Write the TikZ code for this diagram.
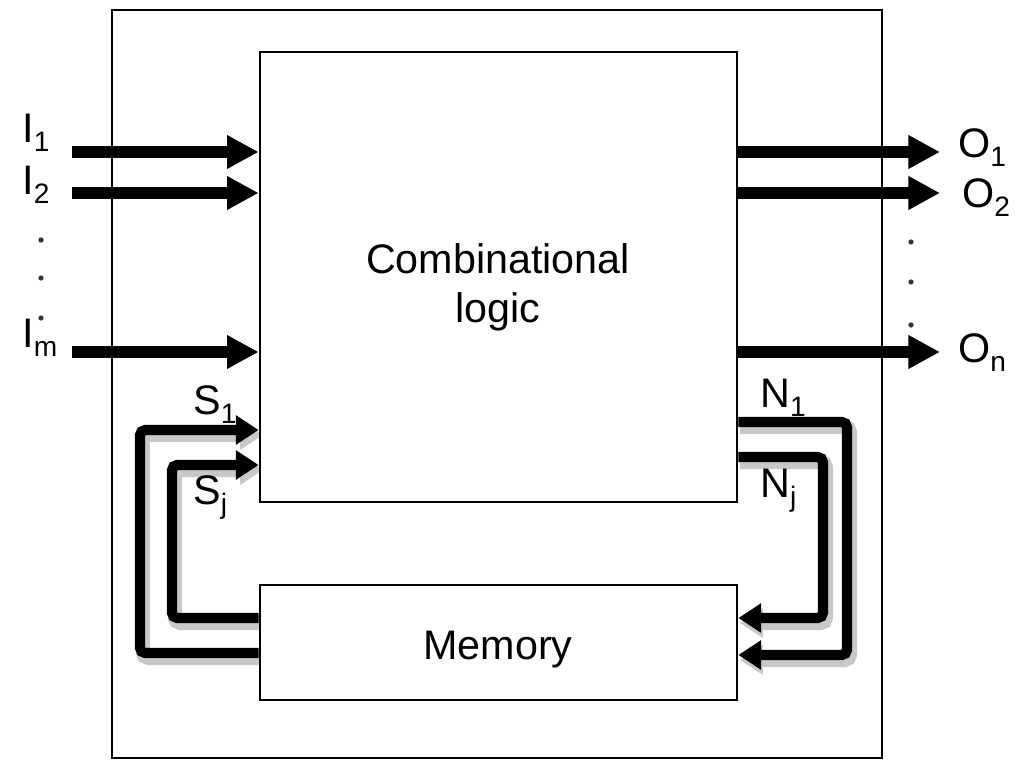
\documentclass[tikz,border=0pt]{standalone}
\usepackage{fontspec}
\setmainfont{Liberation Sans}
\usetikzlibrary{arrows.meta, positioning, calc}
\newcommand{\lowsub}[1]{\raisebox{-5pt}{\fontsize{16}{16}\selectfont #1}}

\begin{document}
\begin{tikzpicture}[x=0.02cm, y=-0.02cm,
  box/.style={draw, line width=1.6pt, inner sep=0pt},
  bus/.style={line width=6.8pt, -{Triangle[length=18pt,width=18pt]}},
  loopline/.style={line width=5.8pt, rounded corners=3pt, -{Triangle[length=13pt,width=16pt]}},
  loopshade/.style={loopline, draw=shadowgray, line width=8pt, shift={(3,5)}},
  txt/.style={font=\fontsize{23.5}{28}\selectfont, inner sep=0pt},
  pin/.style={txt, anchor=base west},
  vdot/.style={fill=black!80, circle, inner sep=0pt, minimum size=3pt}]
% --- SEQUENTIAL CIRCUIT: LOGIC + MEMORY WITH FEEDBACK ---
\definecolor{shadowgray}{HTML}{C8C8C8}
\useasboundingbox (0,0) rectangle (1025,763);

% LAYER 1: Outer box
\node[box, minimum width=15.4cm, minimum height=14.96cm] (chip) at (497,384) {};

% LAYER 2: Feedback shadows
\draw[loopshade] (260,653) -- (140,653) |- (260,430);
\draw[loopshade] (260,618) -- (172,618) |- (260,465);
\draw[loopshade] (737,422) -- (847,422) |- (737,655);
\draw[loopshade] (737,457) -- (823,457) |- (737,618);

% LAYER 3: Blocks
\node[box, fill=white, minimum width=9.54cm, minimum height=9cm] (comb) at (498.5,277) {};
\node[txt, align=center] (combtxt) at (498,287) {Combinational\\logic};
\node[box, fill=white, minimum width=9.54cm, minimum height=2.3cm] (mem) at (498.5,642.5) {};
\node[txt] (memtxt) at (498,650) {Memory};

% LAYER 4: Inputs and outputs
\foreach \name/\y in {i1/152, i2/193, im/352} {
  \coordinate (\name) at (72,\y);
  \draw[bus] (\name) -- (\name -| comb.west);
}
\foreach \name/\y in {o1/152, o2/193, on/352} {
  \coordinate (\name) at (940,\y);
  \draw[bus] (\name -| comb.east) -- (\name);
}
\node[pin] (li1) at (22,143) {I\lowsub{1}};
\node[pin] (li2) at (22,195) {I\lowsub{2}};
\node[pin] (lim) at (22,348) {I\lowsub{m}};
\node[pin] (lo1) at (958,158) {O\lowsub{1}};
\node[pin] (lo2) at (962,208) {O\lowsub{2}};
\node[pin] (lon) at (958,363) {O\lowsub{n}};
\foreach \y in {240, 278, 318} \node[vdot] at (41,\y) {};
\foreach \y in {242, 282, 325} \node[vdot] at (911,\y) {};

% LAYER 5: Feedback through memory
\draw[loopline] (mem.west |- 0,653) -- (140,653) |- (comb.west |- 0,430);
\draw[loopline] (mem.west |- 0,618) -- (172,618) |- (comb.west |- 0,465);
\draw[loopline] (comb.east |- 0,422) -- (847,422) |- (mem.east |- 0,655);
\draw[loopline] (comb.east |- 0,457) -- (823,457) |- (mem.east |- 0,618);
\node[pin] (ls1) at (193,415) {S\lowsub{1}};
\node[pin] (lsj) at (193,505) {S\lowsub{j}};
\node[pin] (ln1) at (760,408) {N\lowsub{1}};
\node[pin] (lnj) at (760,498) {N\lowsub{j}};
\end{tikzpicture}
\end{document}
